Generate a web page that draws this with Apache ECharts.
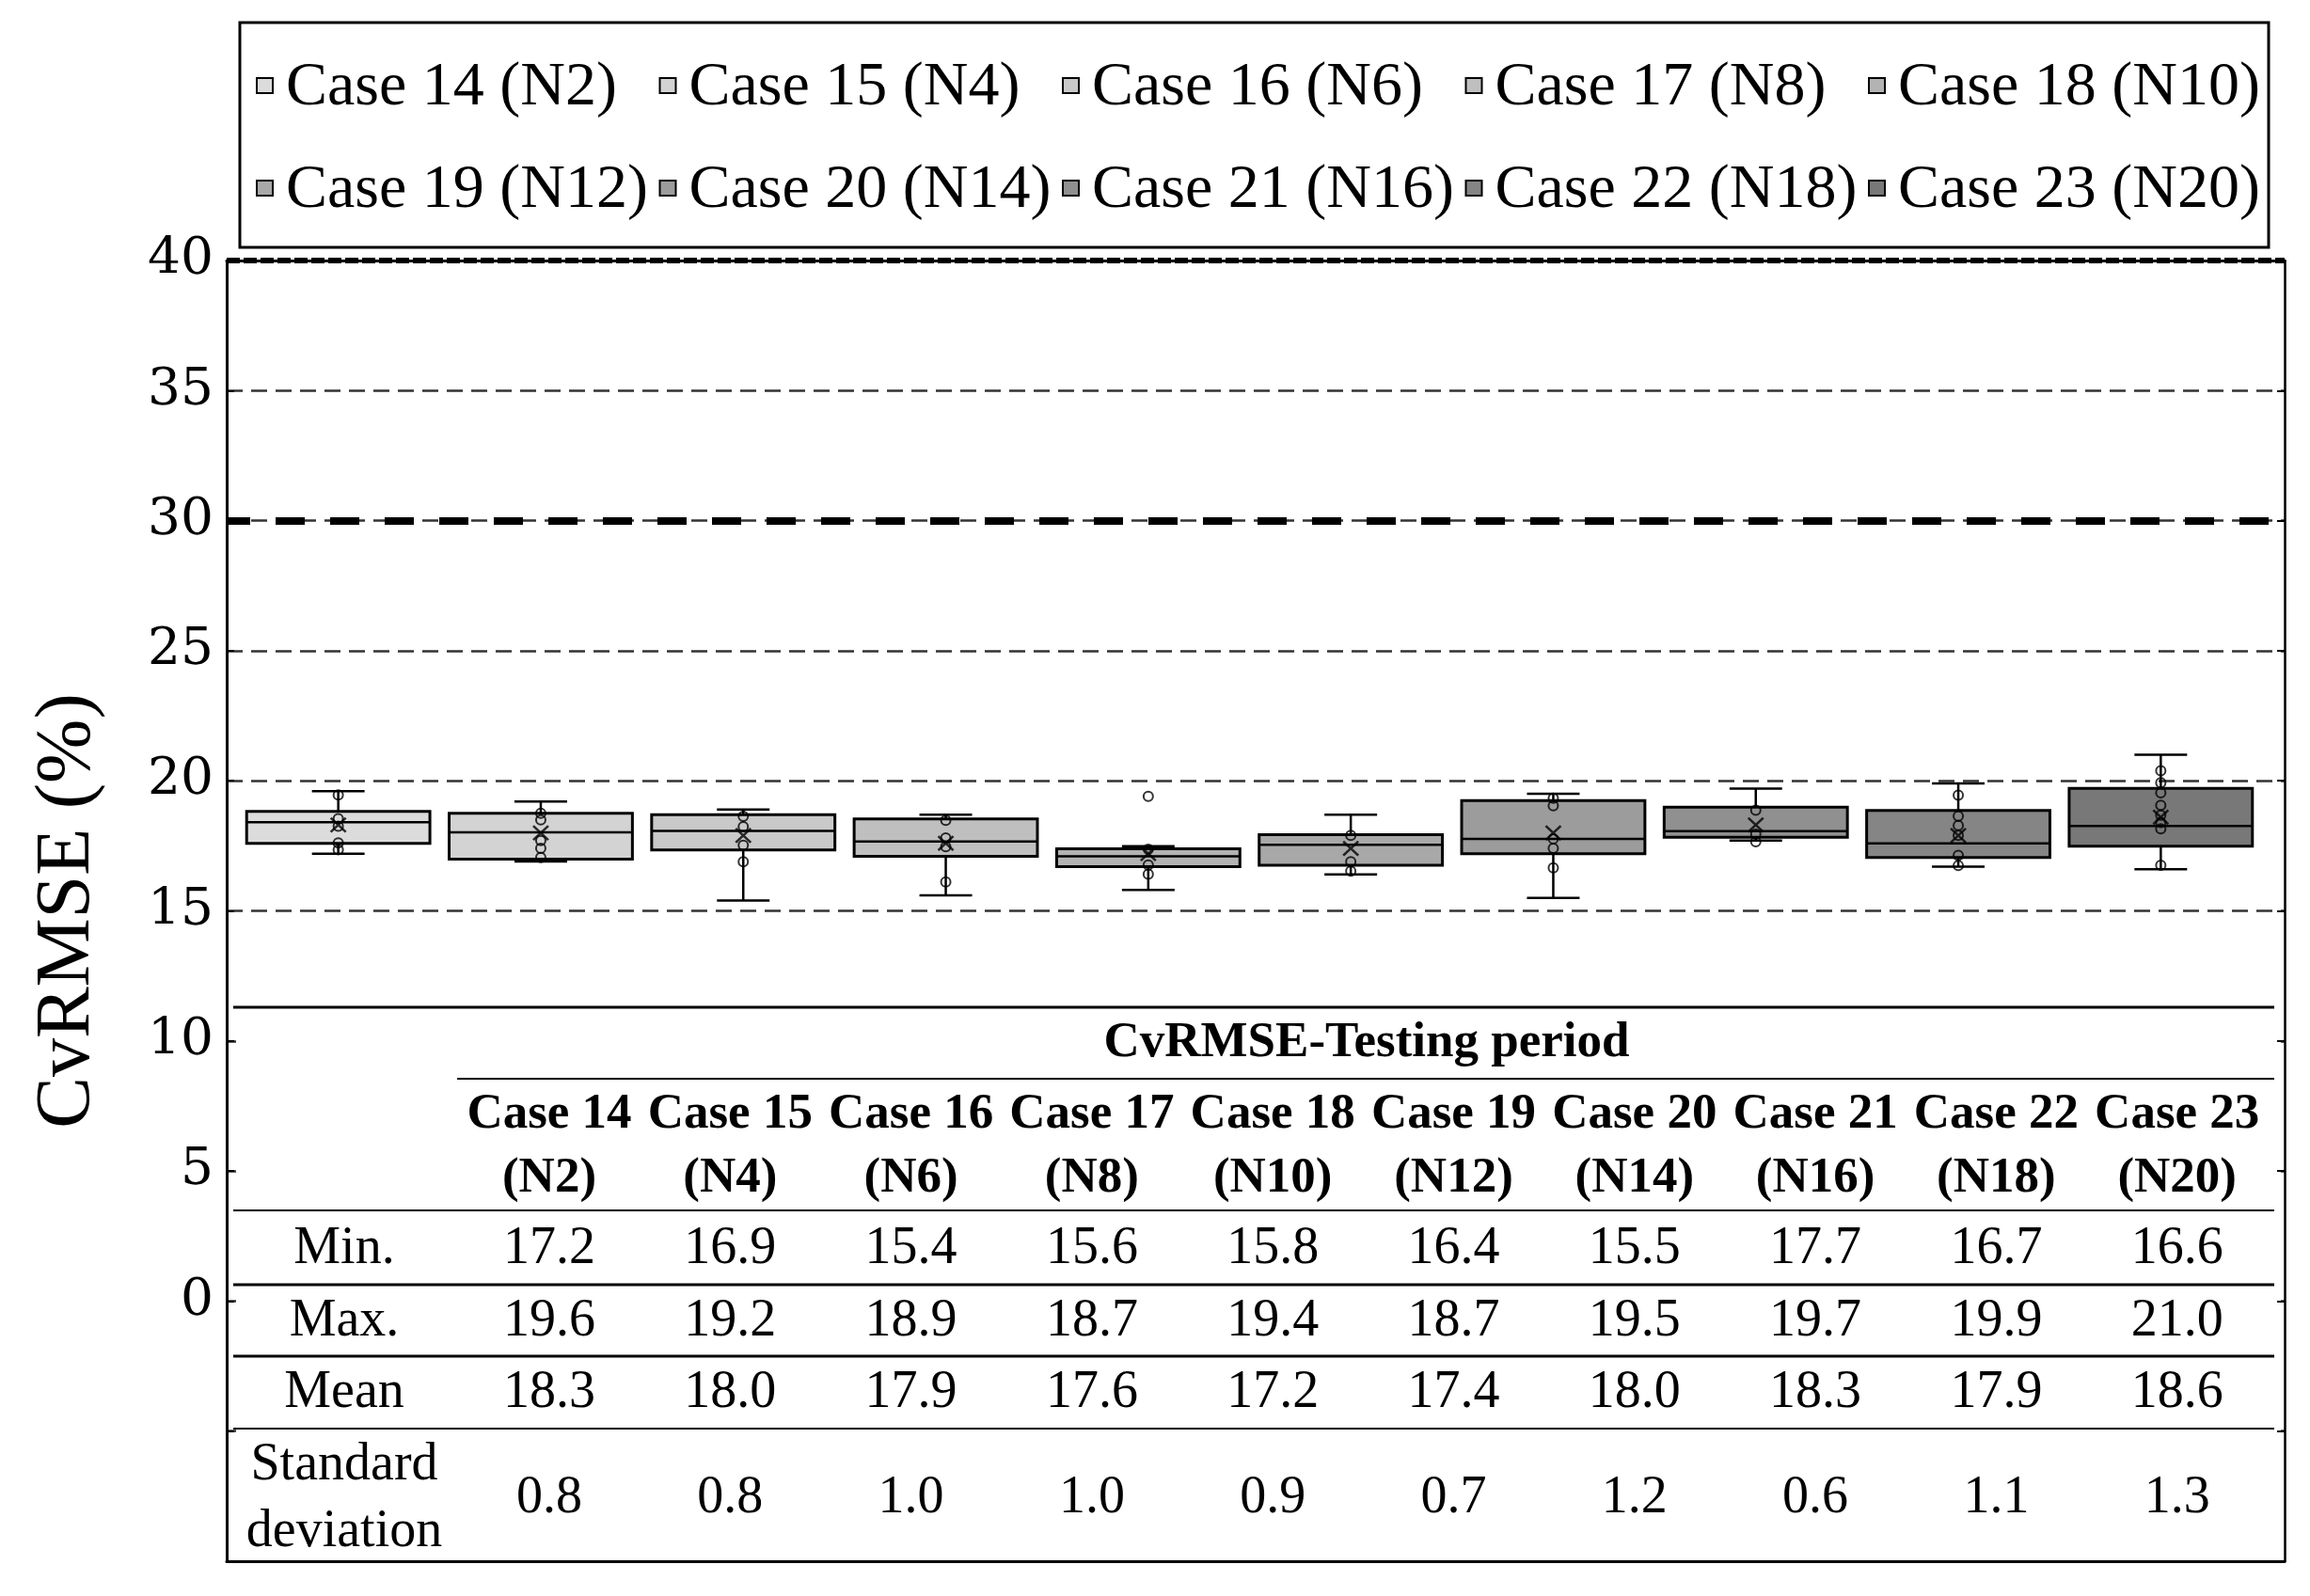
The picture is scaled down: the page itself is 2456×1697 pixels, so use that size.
<!DOCTYPE html>
<html>
<head>
<meta charset="utf-8">
<script src="https://cdn.jsdelivr.net/npm/echarts@6/dist/echarts.min.js"></script>
<style>html,body{margin:0;padding:0;background:#fff;}#c{width:2456px;height:1697px;}</style>
</head>
<body>
<div id="c"></div>
<script>
// ---------- data ----------
const categories = ['Case 14 (N2)','Case 15 (N4)','Case 16 (N6)','Case 17 (N8)','Case 18 (N10)',
                    'Case 19 (N12)','Case 20 (N14)','Case 21 (N16)','Case 22 (N18)','Case 23 (N20)'];
const caseNames = ['Case 14','Case 15','Case 16','Case 17','Case 18','Case 19','Case 20','Case 21','Case 22','Case 23'];
const caseSub = ['(N2)','(N4)','(N6)','(N8)','(N10)','(N12)','(N14)','(N16)','(N18)','(N20)'];
const boxColors = ['#dcdcdc','#d3d3d3','#c9c9c9','#bfbfbf','#b3b3b3','#a8a8a8','#9c9c9c','#909090','#858585','#787878'];

// box statistics
const whiskerLow  = [17.2, 16.9, 15.4, 15.6, 15.8, 16.4, 15.5, 17.7, 16.7, 16.6];
const q1          = [17.59, 16.99, 17.34, 17.10, 16.70, 16.75, 17.20, 17.83, 17.05, 17.49];
const median      = [18.41, 18.02, 18.07, 17.67, 17.10, 17.54, 17.77, 18.06, 17.59, 18.26];
const q3          = [18.82, 18.75, 18.70, 18.53, 17.39, 17.93, 19.24, 18.99, 18.86, 19.71];
const whiskerHigh = [19.6, 19.2, 18.9, 18.7, 17.49, 18.7, 19.5, 19.7, 19.9, 21.0];
const outliers = [[4, 19.4]];
const innerPoints = [
  [19.46, 18.54, 18.25, 17.61, 17.35],
  [18.75, 18.5, 17.7, 17.4, 17.05],
  [18.63, 18.24, 17.52, 16.89],
  [18.48, 17.8, 17.47, 16.11],
  [17.37, 16.76, 16.41],
  [17.9, 16.89, 16.53],
  [19.33, 19.04, 17.77, 17.4, 16.65],
  [18.87, 17.95, 17.66],
  [19.45, 18.64, 18.28, 17.9, 17.13, 16.74],
  [20.39, 19.93, 19.54, 19.06, 18.68, 18.4, 18.15, 16.75]
];

// table values
const tableTitle = 'CvRMSE-Testing period';
const rowLabels = ['Min.','Max.','Mean'];
const minVals  = [17.2, 16.9, 15.4, 15.6, 15.8, 16.4, 15.5, 17.7, 16.7, 16.6];
const maxVals  = [19.6, 19.2, 18.9, 18.7, 19.4, 18.7, 19.5, 19.7, 19.9, 21.0];
const meanVals = [18.3, 18.0, 17.9, 17.6, 17.2, 17.4, 18.0, 18.3, 17.9, 18.6];
const stdVals  = [0.8, 0.8, 1.0, 1.0, 0.9, 0.7, 1.2, 0.6, 1.1, 1.3];

const yTicks = {min: -10, max: 40, interval: 5};

// ---------- chart ----------
const chart = echarts.init(document.getElementById('c'));
const SERIF = 'Liberation Serif';

function renderBox(params, api) {
  const x = api.value(0);
  const lo = api.coord([x, api.value(1)]);
  const b1 = api.coord([x, api.value(2)]);
  const md = api.coord([x, api.value(3)]);
  const b3 = api.coord([x, api.value(4)]);
  const hi = api.coord([x, api.value(5)]);
  const band = api.size([1, 0])[0];
  const bw = band * 0.905, cw = band * 0.26;
  const cx = lo[0];
  const ls = {stroke: '#000', lineWidth: 2.5};
  return {type: 'group', children: [
    {type: 'line', shape: {x1: cx, y1: hi[1], x2: cx, y2: b3[1]}, style: ls},
    {type: 'line', shape: {x1: cx, y1: b1[1], x2: cx, y2: lo[1]}, style: ls},
    {type: 'line', shape: {x1: cx - cw / 2, y1: hi[1], x2: cx + cw / 2, y2: hi[1]}, style: ls},
    {type: 'line', shape: {x1: cx - cw / 2, y1: lo[1], x2: cx + cw / 2, y2: lo[1]}, style: ls},
    {type: 'rect', shape: {x: cx - bw / 2, y: b3[1], width: bw, height: b1[1] - b3[1]},
      style: {fill: api.visual('color'), stroke: '#000', lineWidth: 3}},
    {type: 'line', shape: {x1: cx - bw / 2, y1: md[1], x2: cx + bw / 2, y2: md[1]}, style: ls}
  ]};
}

const boxSeries = categories.map((name, i) => ({
  name: name,
  type: 'custom',
  xAxisIndex: 1, yAxisIndex: 2,
  itemStyle: {color: boxColors[i], borderColor: '#000'},
  renderItem: renderBox,
  encode: {x: 0, y: [1, 2, 3, 4, 5]},
  data: [[i, whiskerLow[i], q1[i], median[i], q3[i], whiskerHigh[i]]],
  z: 3
}));

const pointData = [];
innerPoints.forEach((arr, i) => arr.forEach(v => pointData.push([i, v])));
outliers.forEach(o => pointData.push(o));
const meanData = meanVals.map((v, i) => [i, v]);

// table graphics
const colX = i => 584 + 192.3 * i;
const labelX = 366;
const tRight = 2418;
const g = [];
g.push({type: 'rect', z: 100, shape: {x: 251, y: 1070, width: tRight - 251, height: 587}, style: {fill: '#fff'}});
const hline = (x1, y, w) => ({type: 'line', z: 101, shape: {x1: x1, y1: y, x2: tRight, y2: y},
  style: {stroke: '#000', lineWidth: w}});
g.push(hline(248, 1071, 3));
g.push(hline(486, 1147, 2));
g.push(hline(248, 1287, 2));
g.push(hline(248, 1366, 3));
g.push(hline(248, 1442, 3));
g.push(hline(248, 1519, 2));
const txt = (s, x, y, font, align) => ({type: 'text', z: 102,
  style: {text: s, x: x, y: y, align: align || 'center', verticalAlign: 'middle', font: font, fill: '#000'}});
const bold = 'bold 53px "Liberation Serif"';
const reg = '56px "Liberation Serif"';
g.push(txt(tableTitle, 1453, 1109, bold));
caseNames.forEach((s, i) => {
  g.push(txt(s, colX(i), 1185, bold));
  g.push(txt(caseSub[i], colX(i), 1253, bold));
  g.push(txt(minVals[i].toFixed(1), colX(i), 1328, reg));
  g.push(txt(maxVals[i].toFixed(1), colX(i), 1405, reg));
  g.push(txt(meanVals[i].toFixed(1), colX(i), 1481, reg));
  g.push(txt(stdVals[i].toFixed(1), colX(i), 1593, reg));
});
g.push(txt(rowLabels[0], labelX, 1328, reg));
g.push(txt(rowLabels[1], labelX, 1405, reg));
g.push(txt(rowLabels[2], labelX, 1481, reg));
g.push(txt('Standard', labelX, 1558, reg));
g.push(txt('deviation', labelX, 1629, reg));

// legend (drawn as graphic: markers + labels from categories / boxColors)
g.push({type: 'rect', z: 50, shape: {x: 255, y: 24, width: 2157, height: 239},
  style: {fill: 'none', stroke: '#000', lineWidth: 3}});
const legendFont = '66px "Liberation Serif"';
categories.forEach((name, i) => {
  const col = i % 5, row = Math.floor(i / 5);
  const mx = 273 + 428.5 * col;
  const my = row === 0 ? 91 : 200;
  g.push({type: 'rect', z: 51, shape: {x: mx, y: my - 8, width: 17, height: 16},
    style: {fill: boxColors[i], stroke: '#000', lineWidth: 2}});
  g.push(txt(name, mx + 31, my + 3, legendFont, 'left'));
});

const option = {
  backgroundColor: '#fff',
  animation: false,
  textStyle: {fontFamily: SERIF},
  grid: [
    {left: 241, right: 27, top: 277, bottom: 37},
    {left: 252, width: 2153, top: 277, bottom: 37}
  ],
  xAxis: [
    {type: 'value', gridIndex: 0, min: 0, max: 1, position: 'bottom',
      axisLine: {show: true, onZero: false, lineStyle: {color: '#000', width: 3}},
      axisTick: {show: false}, axisLabel: {show: false}, splitLine: {show: false}},
    {type: 'category', gridIndex: 1, data: categories, show: false, boundaryGap: true},
    {type: 'value', gridIndex: 0, min: 0, max: 1, position: 'top',
      axisLine: {show: true, onZero: false, lineStyle: {color: '#000', width: 3}},
      axisTick: {show: false}, axisLabel: {show: false}, splitLine: {show: false}}
  ],
  yAxis: [
    {type: 'value', gridIndex: 0, min: yTicks.min, max: yTicks.max, interval: yTicks.interval, position: 'left',
      name: 'CvRMSE (%)', nameLocation: 'middle', nameGap: 128,
      nameTextStyle: {fontFamily: SERIF, fontSize: 82, color: '#000'},
      axisLine: {show: true, onZero: false, lineStyle: {color: '#000', width: 3}},
      axisTick: {show: true, inside: true, length: 8, lineStyle: {color: '#000', width: 2}},
      axisLabel: {fontFamily: 'DejaVu Serif', fontSize: 55, color: '#000', margin: 14,
        formatter: v => (v < 0 ? '' : String(v))},
      splitLine: {show: true, lineStyle: {color: '#333', width: 2.5, type: [17, 9]}}},
    {type: 'value', gridIndex: 0, min: yTicks.min, max: yTicks.max, interval: yTicks.interval, position: 'right',
      axisLine: {show: true, onZero: false, lineStyle: {color: '#000', width: 2.5}},
      axisTick: {show: true, inside: true, length: 8, lineStyle: {color: '#000', width: 2}},
      axisLabel: {show: false}, splitLine: {show: false}},
    {type: 'value', gridIndex: 1, min: yTicks.min, max: yTicks.max, interval: yTicks.interval, show: false}
  ],
  graphic: {elements: g},
  series: [
    {type: 'line', name: 'threshold', xAxisIndex: 0, yAxisIndex: 0, data: [[0, 30]],
      symbol: 'none', lineStyle: {width: 0}, silent: true,
      markLine: {silent: true, symbol: 'none', label: {show: false},
        data: [
          {yAxis: 30, lineStyle: {color: '#000', width: 8, type: [31, 27], dashOffset: 6}},
          {yAxis: 40, lineStyle: {color: '#000', width: 6, type: [14, 4]}}
        ]}},
    ...boxSeries,
    {type: 'scatter', name: 'points', xAxisIndex: 1, yAxisIndex: 2, data: pointData,
      symbol: 'circle', symbolSize: 10, z: 5,
      itemStyle: {color: 'rgba(0,0,0,0)', borderColor: '#000', borderWidth: 2}},
    {type: 'scatter', name: 'mean', xAxisIndex: 1, yAxisIndex: 2, data: meanData,
      symbol: 'path://M0,0L10,10M10,0L0,10', symbolSize: [16, 15], z: 6,
      itemStyle: {color: 'rgba(0,0,0,0)', borderColor: '#000', borderWidth: 2.5}}
  ]
};
chart.setOption(option);
</script>
</body>
</html>
